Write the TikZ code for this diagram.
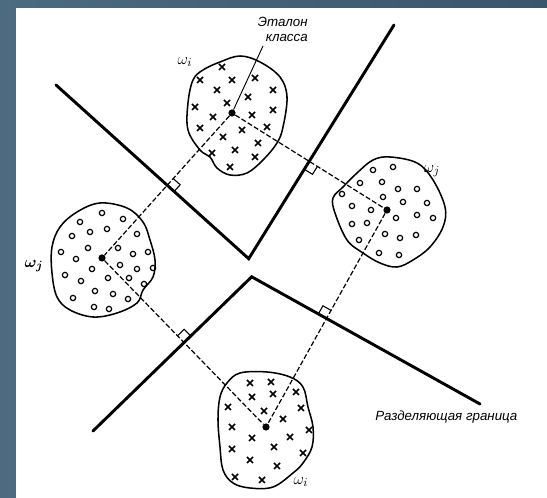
\documentclass[tikz,border=0pt]{standalone}
\usepackage{amsmath}
\usepackage{fontspec}
\newfontfamily\labelfont{Liberation Sans}
\usetikzlibrary{calc}

\definecolor{slateL}{RGB}{76,106,128}
\definecolor{slateR}{RGB}{58,86,106}

% right-angle square at crossing #1, sides toward #2 (boundary) and #3 (link)
\newcommand\perpmark[3]{%
  \path ($(#1)!7pt!(#2)$) coordinate (#1p) ($(#1)!7pt!(#3)$) coordinate (#1q);
  \draw[rangle] (#1p) -- ($(#1p)+(#1q)-(#1)$) -- (#1q);}

\begin{document}
\begin{tikzpicture}[x=0.75pt,y=-0.75pt,
  boundary/.style={line width=2.2pt, line cap=round, line join=miter},
  link/.style={line width=0.9pt, dash pattern=on 3.8pt off 1.7pt},
  leader/.style={line width=0.7pt},
  blob/.style={line width=1.15pt},
  proto/.style={circle, fill=black, inner sep=0pt, minimum size=5.4pt},
  xmark/.style={line width=1.25pt},
  omark/.style={line width=0.9pt},
  rangle/.style={line width=0.8pt},
  caption/.style={font=\labelfont\itshape\fontsize{10}{11.25}\selectfont, inner sep=0pt},
  cls/.style={font=\fontsize{13}{15}\selectfont, inner sep=0pt}
]
% slide background and white sheet
\fill[left color=slateL, right color=slateR] (0,0) rectangle (547,498);
\fill[white] (16,8) rectangle (547,498);
\useasboundingbox (0,0) rectangle (547,498);

% class outlines
\draw[blob] plot[smooth cycle, tension=0.6] coordinates {(240,56) (260,62) (280,77) (287,97) (283,127) (277,143) (263,160) (247,173) (230,175) (217,168) (210,157) (200,150) (188,130) (188,103) (193,80) (203,70) (220,62)};
\draw[blob] plot[smooth cycle, tension=0.6] coordinates {(390,157) (417,163) (433,180) (445,207) (443,227) (430,247) (413,260) (397,267) (380,263) (363,253) (347,240) (335,213) (333,198) (343,187) (357,173) (373,160)};
\draw[blob] plot[smooth cycle, tension=0.6] coordinates {(100,203) (127,208) (143,222) (150,240) (155,260) (153,277) (143,290) (137,303) (117,313) (93,317) (70,310) (57,297) (52,273) (52,247) (60,227) (77,212)};
\draw[blob] plot[smooth cycle, tension=0.6] coordinates {(240,373) (267,372) (290,377) (303,387) (308,407) (313,427) (312,447) (303,463) (293,473) (273,487) (250,488) (233,483) (223,470) (220,447) (218,420) (220,397) (227,383)};

% samples of class omega_i (crosses)
\foreach \p in {(222,67),(200,80),(232,80),(255,78),(217,90),(273,90),(248,97),(195,107),(227,103),(273,110),(213,117),(252,115),(267,127),(200,128),(242,130),(223,137),(258,143),(212,153),(235,150),(255,157),(230,167),
  (250,383),(271,382),(252,397),(273,394),(296,392),(228,407),(264,411),(301,408),(232,427),(283,419),(309,430),(252,438),(290,437),(232,449),(274,447),(303,453),(250,460),(277,466),(235,477),(262,480)}
  \draw[xmark] \p +(-3,-3) -- +(3,3) +(-3,3) -- +(3,-3);

% samples of class omega_j (circles)
\foreach \p in {(373,170),(393,167),(360,183),(382,182),(398,189),(417,189),(342,194),(383,197),(403,202),(427,203),(352,206),(371,210),(396,218),(417,215),(433,218),(352,224),(367,223),(385,234),(400,238),(416,235),(359,240),(379,253),(399,255),
  (102,213),(80,222),(123,219),(72,236),(90,232),(107,229),(137,234),(61,252),(88,248),(118,248),(133,254),(148,252),(76,259),(120,265),(92,269),(137,269),(153,268),(65,275),(108,278),(129,278),(81,281),(144,284),(95,291),(113,294),(73,298),(128,299),(94,307),(109,309)}
  \draw[omark] \p circle[radius=2pt];

% class prototypes
\node[proto] (ti) at (232,113) {};
\node[proto] (rj) at (387,210) {};
\node[proto] (lj) at (102,258) {};
\node[proto] (bi) at (266,427) {};

% links between prototypes
\draw[link] (ti) -- (lj);
\draw[link] (ti) -- (rj);
\draw[link] (lj) -- (bi);
\draw[link] (rj) -- (bi);

% decision boundaries
\coordinate (ua) at (56,85);
\coordinate (uv) at (248.7,258.7);
\coordinate (ub) at (394,25);
\coordinate (la) at (93,431);
\coordinate (lv) at (251.7,276.8);
\coordinate (lb) at (480,404);
\draw[boundary] (ua) -- (uv) -- (ub);
\draw[boundary] (la) -- (lv) -- (lb);

% crossings of links and boundaries
\coordinate (m1) at ($(ti)!0.5!(lj)$);
\coordinate (m2) at ($(ti)!0.5!(rj)$);
\coordinate (m3) at ($(lj)!0.5!(bi)$);
\coordinate (m4) at ($(rj)!0.5!(bi)$);
\perpmark{m1}{uv}{ti}
\perpmark{m2}{uv}{rj}
\perpmark{m3}{lv}{lj}
\perpmark{m4}{lv}{rj}

% labels
\node[caption, align=right, anchor=base east] (etalon) at (308,42) {Эталон\\класса};
\coordinate (lead) at (263,46);
\draw[leader] (ti) -- (lead);
\node[caption, anchor=base west] (sep) at (375,421) {Разделяющая граница};
\node[cls] (wti) at (185,62) {$\omega_i$};
\node[cls] (wrj) at (432,171) {$\omega_j$};
\node[cls] (wlj) at (34,266) {$\boldsymbol{\omega_j}$};
\node[cls] (wbi) at (301,482) {$\omega_i$};
\end{tikzpicture}
\end{document}
